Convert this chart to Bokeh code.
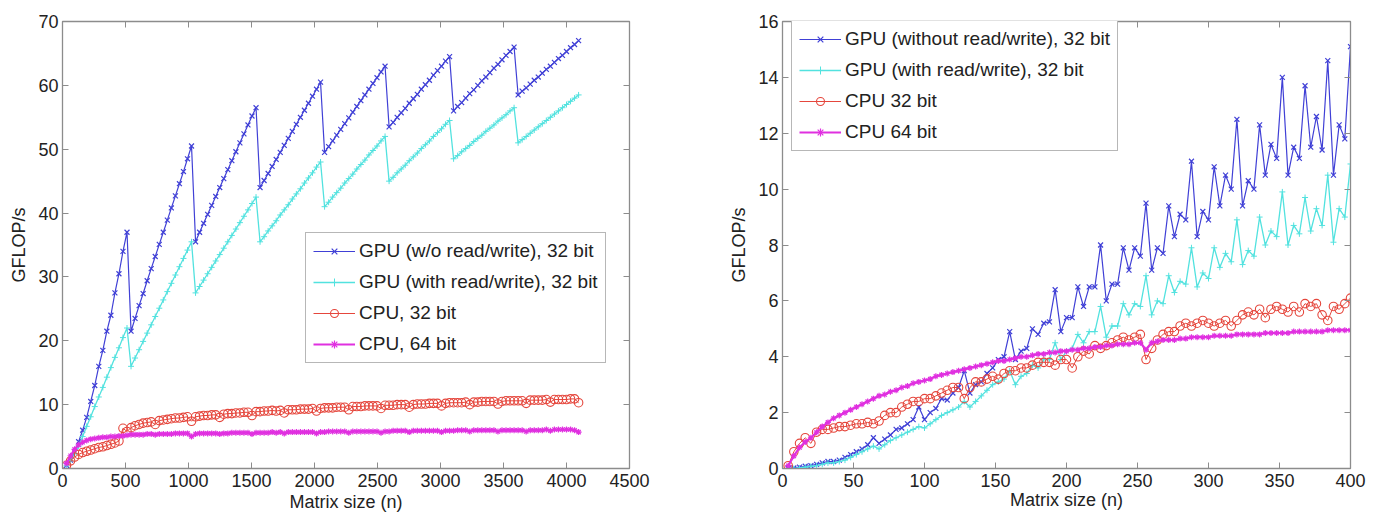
from bokeh.plotting import figure
from bokeh.layouts import row
from bokeh.models import (Range1d, FixedTicker, LinearAxis, Legend, LegendItem)
from bokeh.embed import file_html
from bokeh.resources import INLINE

# ---------------- data: left panel (n up to 4096) ----------------
n_left = list(range(32, 4097, 32))

gpu_noio_left = [
    0.5, 1.3, 2.6, 4.2, 6.0, 8.0, 10.5, 13.0, 16.0, 18.5, 21.5, 24.0, 27.5, 30.5, 34.0, 37.0,
    21.5, 23.5, 25.5, 27.4, 29.4, 31.3, 33.2, 35.1, 37.0, 38.9, 40.8, 42.7, 44.6, 46.5, 48.5, 50.5,
    35.5, 37.0, 38.4, 39.8, 41.2, 42.6, 44.0, 45.4, 46.8, 48.2, 49.6, 51.0, 52.4, 53.8, 55.2, 56.5,
    44.0, 45.1, 46.2, 47.3, 48.4, 49.5, 50.6, 51.7, 52.8, 53.9, 55.0, 56.1, 57.2, 58.3, 59.4, 60.5,
    49.5, 50.4, 51.3, 52.2, 53.1, 54.0, 54.9, 55.8, 56.7, 57.6, 58.5, 59.4, 60.3, 61.2, 62.1, 63.0,
    53.5, 54.2, 55.0, 55.7, 56.4, 57.2, 57.9, 58.6, 59.4, 60.1, 60.8, 61.6, 62.3, 63.0, 63.8, 64.5,
    56.0, 56.7, 57.3, 58.0, 58.7, 59.3, 60.0, 60.7, 61.3, 62.0, 62.7, 63.3, 64.0, 64.7, 65.3, 66.0,
    58.5, 59.1, 59.6, 60.2, 60.8, 61.3, 61.9, 62.5, 63.0, 63.6, 64.2, 64.7, 65.3, 65.9, 66.4, 67.0,
]
gpu_io_left = [
    0.4, 1.2, 2.3, 3.5, 5.0, 6.6, 8.1, 9.7, 11.2, 12.7, 14.3, 15.8, 17.4, 18.9, 20.5, 22.0,
    16.0, 17.3, 18.6, 19.9, 21.2, 22.5, 23.8, 25.1, 26.4, 27.7, 29.0, 30.3, 31.6, 32.9, 34.2, 35.5,
    27.5, 28.5, 29.5, 30.5, 31.5, 32.5, 33.5, 34.5, 35.5, 36.5, 37.5, 38.5, 39.5, 40.5, 41.5, 42.5,
    35.5, 36.3, 37.2, 38.0, 38.8, 39.7, 40.5, 41.3, 42.2, 43.0, 43.8, 44.7, 45.5, 46.3, 47.2, 48.0,
    41.0, 41.7, 42.5, 43.2, 43.9, 44.7, 45.4, 46.1, 46.9, 47.6, 48.3, 49.1, 49.8, 50.5, 51.3, 52.0,
    45.0, 45.6, 46.3, 46.9, 47.5, 48.2, 48.8, 49.4, 50.1, 50.7, 51.3, 52.0, 52.6, 53.2, 53.9, 54.5,
    48.5, 49.0, 49.6, 50.1, 50.6, 51.2, 51.7, 52.2, 52.8, 53.3, 53.8, 54.4, 54.9, 55.4, 56.0, 56.5,
    51.0, 51.5, 52.0, 52.5, 53.0, 53.5, 54.0, 54.5, 55.0, 55.5, 56.0, 56.5, 57.0, 57.5, 58.0, 58.5,
]
cpu32_left = [
    0.5, 1.2, 1.8, 2.2, 2.5, 2.7, 2.9, 3.1, 3.3, 3.4, 3.6, 3.8, 4.0, 4.3, 6.3, 5.8,
    6.4, 6.7, 6.9, 7.1, 7.2, 7.3, 6.9, 7.5, 7.6, 7.7, 7.8, 7.9, 7.9, 8.0, 8.1, 7.4,
    8.1, 8.2, 8.3, 8.3, 8.4, 8.4, 8.0, 8.5, 8.6, 8.6, 8.7, 8.7, 8.8, 8.8, 8.3, 8.9,
    8.9, 9.0, 9.0, 9.1, 9.0, 9.1, 8.7, 9.2, 9.2, 9.2, 9.3, 9.3, 9.3, 9.4, 9.0, 9.4,
    9.5, 9.5, 9.5, 9.6, 9.6, 9.6, 9.2, 9.7, 9.7, 9.7, 9.8, 9.8, 9.8, 9.8, 9.4, 9.9,
    9.9, 9.9, 10.0, 10.0, 10.0, 9.6, 10.0, 10.1, 10.1, 10.1, 10.2, 10.2, 10.2, 9.8, 10.2, 10.3,
    10.3, 10.3, 10.3, 10.4, 10.0, 10.4, 10.4, 10.5, 10.5, 10.5, 10.5, 10.1, 10.5, 10.6, 10.6, 10.6,
    10.6, 10.6, 10.2, 10.7, 10.7, 10.7, 10.7, 10.8, 10.4, 10.8, 10.8, 10.8, 10.8, 10.9, 10.9, 10.3,
]
cpu64_left = [
    0.8, 2.0, 3.0, 3.7, 4.1, 4.4, 4.6, 4.7, 4.8, 4.9, 4.9, 5.0, 5.0, 5.1, 5.1, 5.2,
    5.3, 5.3, 5.3, 5.3, 5.4, 5.4, 5.3, 5.4, 5.4, 5.4, 5.4, 5.5, 5.5, 5.5, 5.5, 5.0,
    5.4, 5.5, 5.5, 5.5, 5.5, 5.5, 5.4, 5.5, 5.5, 5.6, 5.6, 5.6, 5.6, 5.6, 5.4, 5.6,
    5.6, 5.6, 5.6, 5.7, 5.6, 5.7, 5.5, 5.7, 5.7, 5.7, 5.7, 5.7, 5.7, 5.7, 5.5, 5.7,
    5.7, 5.8, 5.8, 5.8, 5.8, 5.8, 5.6, 5.8, 5.8, 5.8, 5.8, 5.8, 5.8, 5.8, 5.6, 5.8,
    5.8, 5.9, 5.9, 5.9, 5.9, 5.7, 5.9, 5.9, 5.9, 5.9, 5.9, 5.9, 5.9, 5.7, 5.9, 5.9,
    5.9, 6.0, 6.0, 6.0, 5.8, 6.0, 6.0, 6.0, 6.0, 6.0, 6.0, 5.8, 6.0, 6.0, 6.0, 6.0,
    6.0, 6.0, 5.8, 6.0, 6.0, 6.0, 6.0, 6.1, 5.9, 6.1, 6.1, 6.1, 6.1, 6.1, 6.0, 5.7,
]

# ---------------- data: right panel (n up to 400) ----------------
n_right = list(range(4, 401, 4))

gpu_noio_right = [
    0.0, 0.02, 0.05, 0.08, 0.1, 0.15, 0.2, 0.25, 0.25, 0.3,
    0.4, 0.5, 0.6, 0.7, 0.85, 1.1, 0.9, 1.05, 1.2, 1.4,
    1.45, 1.6, 1.75, 2.2, 1.75, 2.0, 2.15, 2.5, 2.45, 2.7,
    2.9, 3.5, 2.7, 3.0, 3.1, 3.4, 3.6, 3.9, 4.0, 4.9,
    3.9, 4.2, 4.3, 5.0, 4.8, 5.2, 5.25, 6.4, 4.9, 5.4,
    5.4, 6.5, 5.8, 6.5, 6.5, 8.0, 6.0, 6.6, 6.6, 7.9,
    7.1, 7.9, 7.6, 9.5, 7.1, 7.9, 7.7, 9.4, 8.3, 9.1,
    8.9, 11.0, 8.3, 9.2, 8.9, 10.8, 9.4, 10.5, 10.0, 12.5,
    9.4, 10.3, 10.0, 12.3, 10.5, 11.6, 11.1, 14.0, 10.5, 11.5,
    11.1, 13.7, 11.5, 12.6, 11.4, 14.6, 10.5, 12.3, 11.8, 15.1,
]
gpu_io_right = [
    0.0, 0.0, 0.02, 0.05, 0.08, 0.1, 0.15, 0.2, 0.2, 0.25,
    0.3, 0.4, 0.5, 0.6, 0.7, 0.8, 0.7, 0.85, 1.0, 1.1,
    1.2, 1.3, 1.4, 1.5, 1.45, 1.6, 1.75, 1.9, 2.0, 2.1,
    2.2, 2.4, 2.2, 2.4, 2.6, 2.8, 3.0, 3.1, 3.2, 3.5,
    3.0, 3.3, 3.4, 3.7, 3.6, 3.9, 3.9, 4.5, 3.9, 4.2,
    4.3, 4.8, 4.5, 4.9, 4.9, 5.8, 4.7, 5.1, 5.1, 5.9,
    5.5, 5.9, 5.8, 6.9, 5.5, 6.0, 5.9, 6.9, 6.3, 6.7,
    6.6, 7.9, 6.5, 7.0, 6.8, 7.9, 7.2, 7.7, 7.4, 8.9,
    7.3, 7.8, 7.6, 9.0, 8.0, 8.5, 8.3, 9.9, 8.0, 8.7,
    8.4, 9.7, 8.5, 9.3, 8.7, 10.5, 8.1, 9.3, 9.0, 10.9,
]
cpu32_right = [
    0.1, 0.6, 0.9, 1.1, 0.9, 1.3, 1.4, 1.4, 1.45, 1.5,
    1.5, 1.55, 1.6, 1.6, 1.65, 1.6, 1.7, 1.9, 2.0, 2.0,
    2.2, 2.3, 2.4, 2.4, 2.5, 2.5, 2.6, 2.7, 2.8, 2.9,
    2.9, 2.5, 2.9, 3.1, 3.1, 3.2, 3.3, 3.2, 3.4, 3.5,
    3.5, 3.6, 3.6, 3.7, 3.8, 3.8, 3.8, 3.7, 3.9, 3.9,
    3.6, 4.0, 4.2, 4.1, 4.4, 4.3, 4.4, 4.5, 4.6, 4.7,
    4.6, 4.7, 4.8, 3.9, 4.3, 4.6, 4.8, 4.9, 4.9, 5.1,
    5.2, 5.1, 5.2, 5.3, 5.2, 5.1, 5.2, 5.3, 5.1, 5.3,
    5.5, 5.6, 5.5, 5.7, 5.4, 5.7, 5.8, 5.7, 5.6, 5.8,
    5.6, 5.9, 5.8, 5.9, 5.5, 5.3, 5.8, 5.7, 5.9, 6.1,
]
cpu64_right = [
    0.1, 0.45, 0.75, 0.95, 1.1, 1.3, 1.5, 1.65, 1.8, 1.9,
    2.0, 2.1, 2.2, 2.3, 2.4, 2.5, 2.6, 2.65, 2.75, 2.8,
    2.9, 2.95, 3.05, 3.1, 3.15, 3.2, 3.3, 3.35, 3.4, 3.45,
    3.5, 3.55, 3.6, 3.65, 3.7, 3.75, 3.8, 3.85, 3.85, 3.9,
    3.95, 4.0, 4.0, 4.05, 4.1, 4.1, 4.15, 4.15, 4.2, 4.2,
    4.25, 4.25, 4.3, 4.3, 4.35, 4.35, 4.4, 4.4, 4.45, 4.45,
    4.45, 4.5, 4.5, 4.25, 4.5, 4.55, 4.6, 4.6, 4.6, 4.65,
    4.65, 4.7, 4.7, 4.7, 4.7, 4.75, 4.75, 4.75, 4.75, 4.8,
    4.8, 4.8, 4.8, 4.8, 4.85, 4.85, 4.85, 4.85, 4.85, 4.9,
    4.9, 4.9, 4.9, 4.9, 4.9, 4.95, 4.95, 4.95, 4.95, 4.95,
]

left_labels = ["GPU (w/o read/write), 32 bit", "GPU (with read/write), 32 bit",
               "CPU, 32 bit", "CPU, 64 bit"]
right_labels = ["GPU (without read/write), 32 bit", "GPU (with read/write), 32 bit",
                "CPU 32 bit", "CPU 64 bit"]
left_xticks = [0, 500, 1000, 1500, 2000, 2500, 3000, 3500, 4000, 4500]
left_yticks = [0, 10, 20, 30, 40, 50, 60, 70]
right_xticks = [0, 50, 100, 150, 200, 250, 300, 350, 400]
right_yticks = [0, 2, 4, 6, 8, 10, 12, 14, 16]

FONT = "Liberation Sans"
BLUE = "#4040d6"
CYAN = "#52e2df"
RED = "#e5463c"
MAG = "#e030e0"
FRAME = "#8c8c8c"
TEXT = "#222222"


def make_fig(width, xr, yr, xticks, yticks, mb, xs, series, labels,
             legend_loc, mleft, mright, mtop, xlabel_standoff):
    p = figure(width=width, height=515, output_backend="svg", toolbar_location=None,
               x_range=Range1d(*xr), y_range=Range1d(*yr),
               min_border_left=mleft, min_border_right=mright,
               min_border_top=mtop, min_border_bottom=mb)
    p.xgrid.visible = False
    p.ygrid.visible = False
    p.outline_line_color = FRAME
    p.outline_line_width = 1.3
    p.background_fill_color = "white"
    p.border_fill_color = "white"
    for ax, tk in ((p.xaxis[0], xticks), (p.yaxis[0], yticks)):
        ax.ticker = FixedTicker(ticks=tk)
        ax.major_tick_in = 6
        ax.major_tick_out = 0
        ax.minor_tick_line_color = None
        ax.axis_line_color = FRAME
        ax.major_tick_line_color = FRAME
        ax.major_label_text_font = FONT
        ax.major_label_text_font_size = "18px"
        ax.major_label_text_color = TEXT
        ax.axis_label_text_font = FONT
        ax.axis_label_text_font_size = "18px"
        ax.axis_label_text_font_style = "normal"
        ax.axis_label_text_color = TEXT
    p.xaxis.axis_label = "Matrix size (n)"
    p.yaxis.axis_label = "GFLOP/s"
    p.xaxis.major_label_standoff = 5
    p.yaxis.major_label_standoff = 4
    p.xaxis.axis_label_standoff = xlabel_standoff
    p.yaxis.axis_label_standoff = 6
    # mirrored ticks on the top and right sides (MATLAB box)
    for side, tk in (("above", xticks), ("right", yticks)):
        ax = LinearAxis(ticker=FixedTicker(ticks=tk),
                        major_label_overrides={t: "" for t in tk},
                        major_tick_in=6, major_tick_out=0,
                        major_label_standoff=0,
                        minor_tick_line_color=None,
                        axis_line_color=FRAME, major_tick_line_color=FRAME,
                        major_label_text_font_size="1px")
        p.add_layout(ax, side)

    styles = [
        dict(color=BLUE, marker="x", size=7, lw=1.2, mlw=1.2),
        dict(color=CYAN, marker="cross", size=6, lw=1.3, mlw=1.0),
        dict(color=RED, marker="circle", size=8.5, lw=1.0, mlw=1.1),
        dict(color=MAG, marker="asterisk", size=6, lw=2.2, mlw=1.2),
    ]
    items = []
    for ys, st, lab in zip(series, styles, labels):
        lr = p.line(xs, ys, line_color=st["color"], line_width=st["lw"])
        sr = p.scatter(xs, ys, marker=st["marker"], size=st["size"],
                       line_color=st["color"], fill_color=None,
                       line_width=st["mlw"])
        items.append(LegendItem(label=lab, renderers=[lr, sr]))
    legend = Legend(items=items, location=legend_loc,
                    label_text_font=FONT, label_text_font_size="19px",
                    label_text_color=TEXT,
                    glyph_width=42, glyph_height=20, label_height=20,
                    label_standoff=4, spacing=9, padding=7, margin=0,
                    border_line_color="#6f6f6f", border_line_width=1.2,
                    background_fill_color="white", background_fill_alpha=1.0)
    p.add_layout(legend, "center")
    return p


p1 = make_fig(700, (0, 4500), (0, 70), left_xticks, left_yticks, 47,
              n_left, [gpu_noio_left, gpu_io_left, cpu32_left, cpu64_left],
              left_labels, (243, 105), 62, 71, 20, 2)
p2 = make_fig(678, (0, 400), (0, 16), right_xticks, right_yticks, 43,
              n_right, [gpu_noio_right, gpu_io_right, cpu32_right, cpu64_right],
              right_labels, (9, 317), 82, 28, 21, 0)

layout = row(p1, p2)
open("out.html", "w").write(file_html(layout, INLINE))
